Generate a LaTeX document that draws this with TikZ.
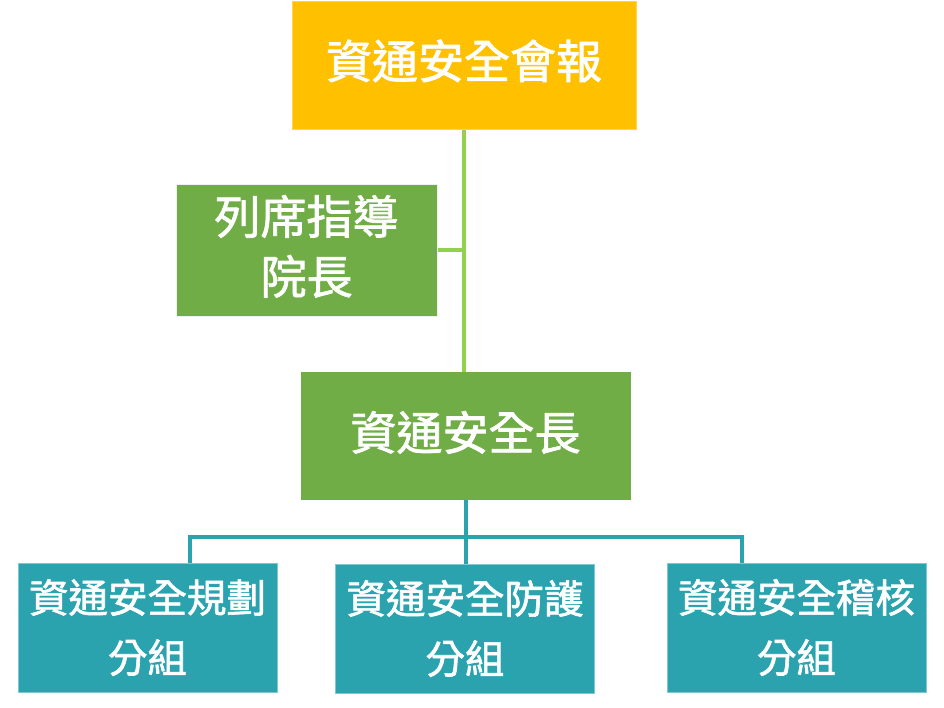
\documentclass[tikz,border=0pt]{standalone}
\usepackage{fontspec}
\newfontfamily\cjk{Noto Sans CJK TC}[FakeBold=1.6]
\definecolor{gold}{HTML}{FFC000}
\definecolor{grn}{HTML}{70AD47}
\definecolor{lgrn}{HTML}{92D050}
\definecolor{teal2}{HTML}{2AA3AF}
\tikzset{
  box/.style={draw=white!88!gray, line width=1pt, inner sep=0pt, align=center, text=white,
    font=\cjk\fontsize{46}{60}\selectfont},
  sbox/.style={box, draw=teal2!60!white, fill=teal2, minimum width=259pt, minimum height=129pt,
    font=\cjk\fontsize{39.5}{60}\selectfont},
  gline/.style={draw=lgrn, line width=4pt},
  tline/.style={draw=teal2, line width=4pt}
}
\begin{document}
\begin{tikzpicture}[x=1pt,y=-1pt]
\path[use as bounding box, fill=white] (0,0) rectangle (944,708);
\node[box, fill=gold, draw=gold!70!white, minimum width=344pt, minimum height=128pt, text depth=14pt] (top) at (464,66) {資通安全會報};
\node[box, fill=grn, minimum width=261pt, minimum height=131pt, text depth=12pt] (adv) at (306.5,250.5) {列席指導\\院長};
\node[box, fill=grn, draw=grn, minimum width=329pt, minimum height=127pt, text depth=10pt] (chief) at (465.5,435.5) {資通安全長};
\node[sbox] (g1) at (147.5,627.5) {資通安全規劃\\分組};
\node[sbox] (g2) at (465,628.5) {資通安全防護\\分組};
\node[sbox] (g3) at (796.5,627.5) {資通安全稽核\\分組};
\coordinate (bus) at (464,537);
\draw[gline] (top.south) -- (top.south |- chief.north);
\draw[gline] (adv.east) -- (adv.east -| top.south);
\draw[tline] (chief.south) -- (chief.south |- g2.north);
\draw[tline] ([xshift=42.5pt]g1.north) |- (bus) -| ([xshift=-55pt]g3.north);
\end{tikzpicture}
\end{document}
